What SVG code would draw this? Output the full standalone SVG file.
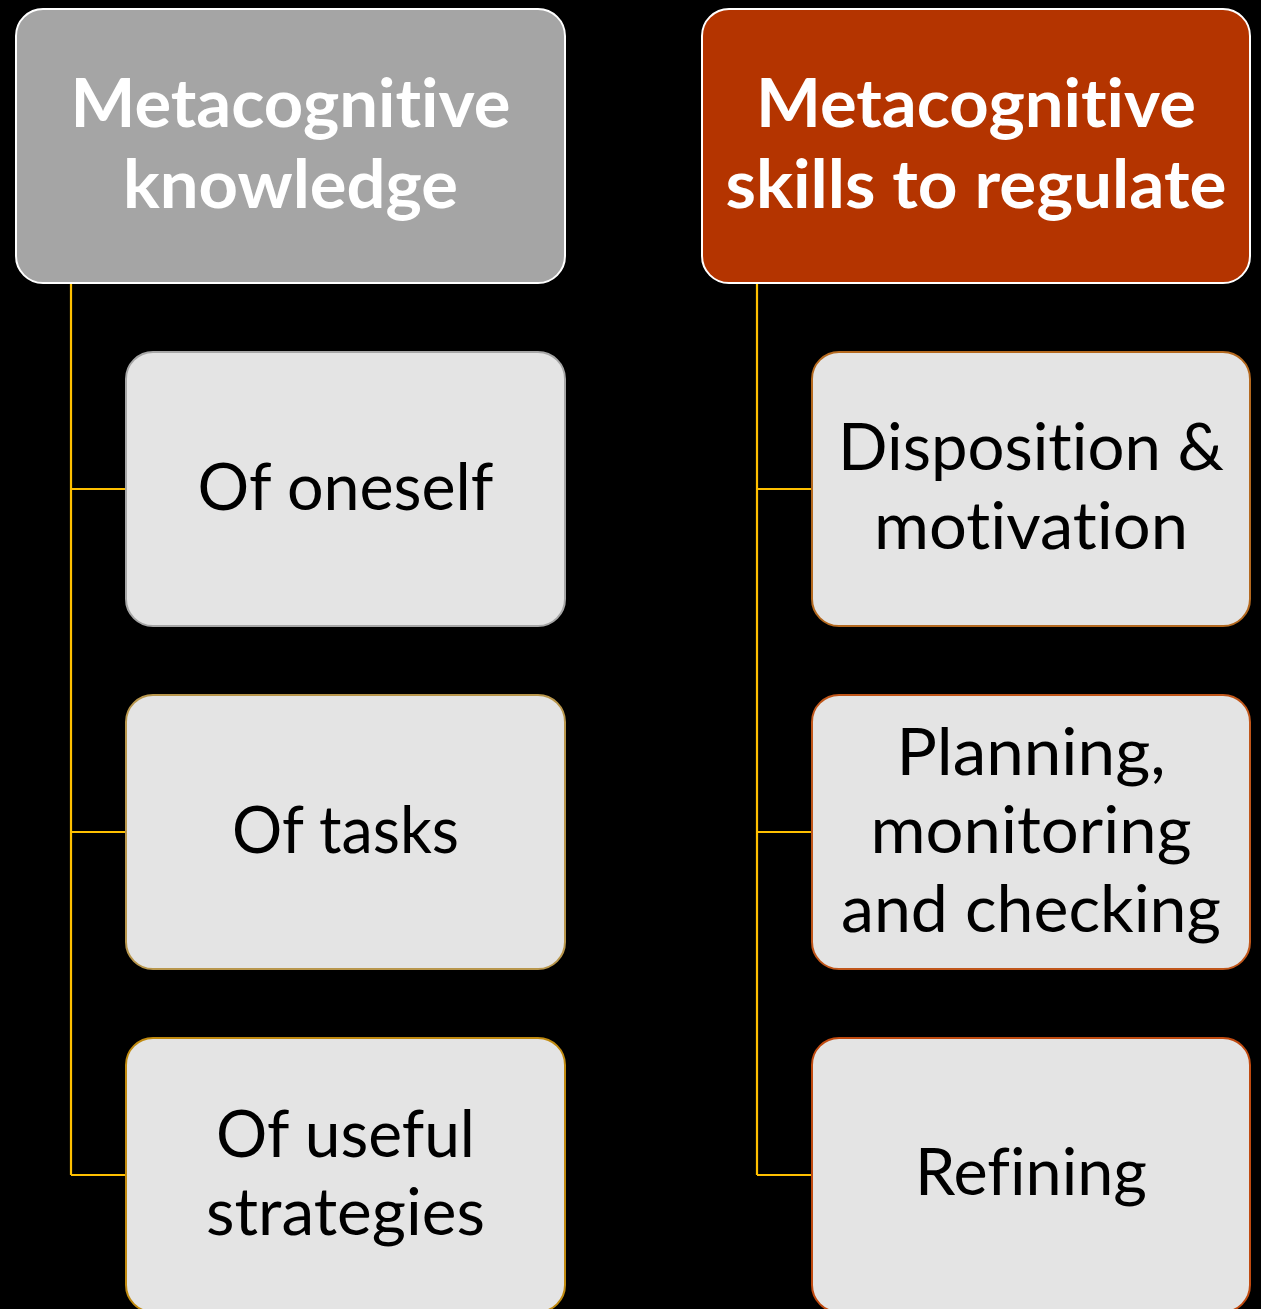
<svg xmlns="http://www.w3.org/2000/svg" width="1261" height="1309" viewBox="0 0 1261 1309">
  <style>
    .hdr { stroke: #ffffff; stroke-width: 2; }
    .child { fill: #e4e4e4; stroke-width: 2; }
    .htxt { font-family: Lato, "Liberation Sans", sans-serif; font-weight: bold; font-size: 66px; fill: #ffffff; text-anchor: middle; font-variant-ligatures: none; font-feature-settings: "liga" 0, "dlig" 0; }
    .ctxt { font-family: Lato, "Liberation Sans", sans-serif; font-size: 66px; fill: #000000; text-anchor: middle; font-variant-ligatures: none; font-feature-settings: "liga" 0, "dlig" 0; }
    .conn { fill: none; stroke: #ffc000; stroke-width: 2.2; }
  </style>
  <rect x="0" y="0" width="1261" height="1309" fill="#000000"/>
  <g id="connectors">
    <path class="conn" d="M71,283 V1175 M71,489 H126 M71,832 H126 M71,1175 H126"/>
    <path class="conn" d="M757,283 V1175 M757,489 H812 M757,832 H812 M757,1175 H812"/>
  </g>
  <g id="node-knowledge">
    <rect class="hdr" x="16" y="9" width="549" height="274" rx="27" fill="#a5a5a5"/>
    <text class="htxt" x="290.5" y="127" textLength="440" lengthAdjust="spacingAndGlyphs">Metacognitive</text>
    <text class="htxt" x="290.5" y="208" textLength="335" lengthAdjust="spacingAndGlyphs">knowledge</text>
  </g>
  <g id="node-skills">
    <rect class="hdr" x="702" y="9" width="548" height="274" rx="27" fill="#b43400"/>
    <text class="htxt" x="976" y="127" textLength="440" lengthAdjust="spacingAndGlyphs">Metacognitive</text>
    <text class="htxt" x="976" y="208" textLength="501" lengthAdjust="spacingAndGlyphs">skills to regulate</text>
  </g>
  <g id="node-oneself">
    <rect class="child" x="126" y="352" width="439" height="274" rx="27" stroke="#a6a6a6"/>
    <text class="ctxt" x="345.5" y="510" textLength="296" lengthAdjust="spacingAndGlyphs">Of oneself</text>
  </g>
  <g id="node-tasks">
    <rect class="child" x="126" y="695" width="439" height="274" rx="27" stroke="#b8964c"/>
    <text class="ctxt" x="345.5" y="853" textLength="227" lengthAdjust="spacingAndGlyphs">Of tasks</text>
  </g>
  <g id="node-strategies">
    <rect class="child" x="126" y="1038" width="439" height="274" rx="27" stroke="#c08a10"/>
    <text class="ctxt" x="345.5" y="1157" textLength="259" lengthAdjust="spacingAndGlyphs">Of useful</text>
    <text class="ctxt" x="345.5" y="1235" textLength="279" lengthAdjust="spacingAndGlyphs">strategies</text>
  </g>
  <g id="node-disposition">
    <rect class="child" x="812" y="352" width="438" height="274" rx="27" stroke="#b4691f"/>
    <text class="ctxt" x="1031" y="470" textLength="386" lengthAdjust="spacingAndGlyphs">Disposition &amp;</text>
    <text class="ctxt" x="1031" y="549" textLength="314" lengthAdjust="spacingAndGlyphs">motivation</text>
  </g>
  <g id="node-planning">
    <rect class="child" x="812" y="695" width="438" height="274" rx="27" stroke="#c0561a"/>
    <text class="ctxt" x="1031" y="775" textLength="269" lengthAdjust="spacingAndGlyphs">Planning,</text>
    <text class="ctxt" x="1031" y="853" textLength="321" lengthAdjust="spacingAndGlyphs">monitoring</text>
    <text class="ctxt" x="1031" y="932" textLength="380" lengthAdjust="spacingAndGlyphs">and checking</text>
  </g>
  <g id="node-refining">
    <rect class="child" x="812" y="1038" width="438" height="274" rx="27" stroke="#c04a10"/>
    <text class="ctxt" x="1031" y="1195" textLength="232" lengthAdjust="spacingAndGlyphs">Refining</text>
  </g>
</svg>
